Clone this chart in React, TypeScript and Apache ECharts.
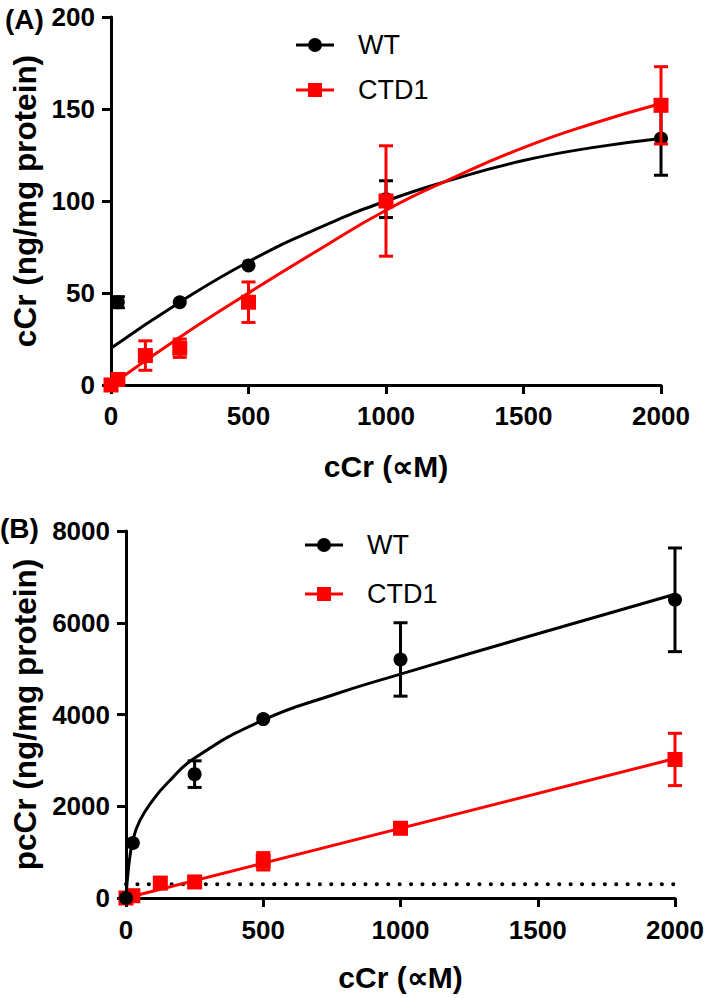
import React, { useEffect, useRef } from "react";
import * as echarts from "echarts";

// ---------- data ----------
// Panel A: cCr uptake
const wtA_x = [25, 250, 500, 1000, 2000];
const wtA_y = [45, 45, 65, 101, 134];
const wtA_err = [3, 0, 0, 10, 20];
const ctdA_x = [0, 25, 125, 250, 500, 1000, 2000];
const ctdA_y = [0, 3, 16, 20, 45, 100, 152];
const ctdA_err = [0, 0, 8, 5, 11, 30, 21];
// fitted curves in A
const fitWtA_x = [0, 250, 500, 750, 1000, 1250, 1500, 1750, 2000];
const fitWtA_y = [20, 45, 67, 85, 100, 112, 122, 129, 134];
const fitCtdA_x = [0, 250, 500, 750, 1000, 1250, 1500, 1750, 2000];
const fitCtdA_y = [0, 26, 50, 73, 95, 113, 129, 142, 153];

// Panel B: pcCr
const wtB_x = [0, 25, 250, 500, 1000, 2000];
const wtB_y = [0, 1200, 2700, 3900, 5200, 6500];
const wtB_err = [0, 0, 290, 0, 800, 1130];
const ctdB_x = [0, 25, 125, 250, 500, 1000, 2000];
const ctdB_y = [0, 50, 325, 350, 800, 1520, 3020];
const ctdB_err = [0, 0, 0, 0, 190, 0, 570];
const fitWtB_x = [0, 10, 25, 50, 100, 150, 250, 500, 750, 1000, 1500, 2000];
const fitWtB_y = [0, 700, 1250, 1680, 2150, 2500, 3050, 3880, 4420, 4880, 5760, 6620];
const fitCtdB_x = [0, 2000];
const fitCtdB_y = [0, 3040];
const thresholdB_x = [0, 2000];
const thresholdB_y = [300, 300];

// axes
const xTicks = { min: 0, max: 2000, interval: 500 };
const yTicksA = { min: 0, max: 200, interval: 50 };
const yTicksB = { min: 0, max: 8000, interval: 2000 };
const legendNames = ["WT", "CTD1"];

const FONT = '"Liberation Sans", Arial, Helvetica, sans-serif';
const BLACK = "#000000";
const RED = "#ff0000";

const zip = (xs: number[], ys: number[]) => xs.map((x, i) => [x, ys[i]]);
const bars = (xs: number[], ys: number[], es: number[]) =>
  xs
    .map((x, i) => [x, ys[i] - es[i], ys[i] + es[i], es[i]])
    .filter((d) => d[3] > 0)
    .map((d) => [d[0], d[1], d[2]]);

const circleIcon =
  "path://M0 5.5 H13 V8.5 H0 Z M25 5.5 H38 V8.5 H25 Z M26 7 A7 7 0 1 1 12 7 A7 7 0 1 1 26 7 Z";
const squareIcon = "path://M0 5.5 H13 V8.5 H0 Z M25 5.5 H38 V8.5 H25 Z M12 0 H26 V14 H12 Z";

function errSeries(data: number[][], color: string, axis: number, z: number) {
  return {
    type: "custom",
    xAxisIndex: axis,
    yAxisIndex: axis,
    z,
    clip: false,
    silent: true,
    data,
    encode: { x: 0, y: [1, 2] },
    renderItem: (_p: any, api: any) => {
      const x = api.value(0);
      const lo = api.coord([x, api.value(1)]);
      const hi = api.coord([x, api.value(2)]);
      const hw = 7;
      const st = { stroke: color, lineWidth: 3 };
      return {
        type: "group",
        children: [
          { type: "line", shape: { x1: lo[0], y1: lo[1], x2: hi[0], y2: hi[1] }, style: st },
          { type: "line", shape: { x1: lo[0] - hw, y1: lo[1], x2: lo[0] + hw, y2: lo[1] }, style: st },
          { type: "line", shape: { x1: hi[0] - hw, y1: hi[1], x2: hi[0] + hw, y2: hi[1] }, style: st },
        ],
      };
    },
  };
}

function curve(name: string, data: number[][], color: string, axis: number, z: number) {
  return {
    name,
    type: "line",
    xAxisIndex: axis,
    yAxisIndex: axis,
    z,
    data,
    symbol: "none",
    smooth: 0.5,
    lineStyle: { color, width: 3 },
    silent: true,
  };
}

function points(name: string, data: number[][], color: string, axis: number, symbol: string, size: number, z: number) {
  return {
    name,
    type: "scatter",
    xAxisIndex: axis,
    yAxisIndex: axis,
    z,
    data,
    symbol,
    symbolSize: size,
    clip: false,
    itemStyle: { color, opacity: 1 },
    silent: true,
  };
}

const axisCommon = {
  type: "value",
  axisLine: { show: true, onZero: false, lineStyle: { color: BLACK, width: 3 } },
  axisTick: { show: true, length: 9, lineStyle: { color: BLACK, width: 3 } },
  splitLine: { show: false },
  axisLabel: {
    fontSize: 26,
    fontWeight: "bold",
    color: BLACK,
    fontFamily: FONT,
    formatter: (v: number) => String(v),
  },
  nameLocation: "middle",
  nameTextStyle: { fontSize: 30, fontWeight: "bold", color: BLACK, fontFamily: FONT },
};

export default function App() {
  const ref = useRef<HTMLDivElement>(null);
  useEffect(() => {
    if (!ref.current) return;
    const chart = echarts.init(ref.current, null, { renderer: "svg" });
    const legendText = { fontSize: 27, fontFamily: FONT, color: BLACK, padding: [0, 0, 0, 19], lineHeight: 30 };
    const legendData = [
      { name: legendNames[0], icon: circleIcon },
      { name: legendNames[1], icon: squareIcon },
    ];
    const yName = { fontSize: 31.5, fontWeight: "bold", color: BLACK, fontFamily: FONT };
    chart.setOption({
      animation: false,
      backgroundColor: "#ffffff",
      textStyle: { fontFamily: FONT },
      title: [
        { text: "(A)", left: 5, top: 5, padding: 0, textStyle: { fontSize: 28, fontWeight: "bold", color: BLACK, fontFamily: FONT } },
        { text: "(B)", left: 0, top: 514, padding: 0, textStyle: { fontSize: 28, fontWeight: "bold", color: BLACK, fontFamily: FONT } },
      ],
      legend: [
        { data: legendData, orient: "vertical", left: 296, top: 30, itemWidth: 38, itemHeight: 14, itemGap: 15, selectedMode: false, padding: 0, textStyle: legendText },
        { data: legendData, orient: "vertical", left: 305, top: 530, itemWidth: 38, itemHeight: 14, itemGap: 19, selectedMode: false, padding: 0, textStyle: legendText },
      ],
      grid: [
        { left: 111, top: 17, width: 550, height: 368 },
        { left: 126, top: 531, width: 549, height: 367 },
      ],
      xAxis: [
        { ...axisCommon, gridIndex: 0, ...xTicks, name: "cCr (∝M)", nameGap: 66, axisLabel: { ...axisCommon.axisLabel, margin: 18 } },
        { ...axisCommon, gridIndex: 1, ...xTicks, name: "cCr (∝M)", nameGap: 64, axisLabel: { ...axisCommon.axisLabel, margin: 19 } },
      ],
      yAxis: [
        { ...axisCommon, gridIndex: 0, ...yTicksA, name: "cCr (ng/mg protein)", nameGap: 65, nameTextStyle: yName, axisLabel: { ...axisCommon.axisLabel, margin: 16 } },
        { ...axisCommon, gridIndex: 1, ...yTicksB, name: "pcCr (ng/mg protein)", nameGap: 79, nameTextStyle: yName, axisLabel: { ...axisCommon.axisLabel, margin: 16 } },
      ],
      series: [
        // Panel A
        curve("WT fit A", zip(fitWtA_x, fitWtA_y), BLACK, 0, 2),
        errSeries(bars(wtA_x, wtA_y, wtA_err), BLACK, 0, 3),
        points("WT", zip(wtA_x, wtA_y), BLACK, 0, "circle", 14, 4),
        curve("CTD1 fit A", zip(fitCtdA_x, fitCtdA_y), RED, 0, 5),
        errSeries(bars(ctdA_x, ctdA_y, ctdA_err), RED, 0, 6),
        points("CTD1", zip(ctdA_x, ctdA_y), RED, 0, "rect", 15, 7),
        // Panel B
        {
          name: "threshold",
          type: "line",
          xAxisIndex: 1,
          yAxisIndex: 1,
          z: 1,
          data: zip(thresholdB_x, thresholdB_y),
          symbol: "none",
          silent: true,
          lineStyle: { color: BLACK, width: 4, type: [0.1, 11.3], cap: "round" },
        },
        curve("CTD1 fit B", zip(fitCtdB_x, fitCtdB_y), RED, 1, 2),
        errSeries(bars(ctdB_x, ctdB_y, ctdB_err), RED, 1, 3),
        points("CTD1", zip(ctdB_x, ctdB_y), RED, 1, "rect", 15, 4),
        curve("WT fit B", zip(fitWtB_x, fitWtB_y), BLACK, 1, 5),
        errSeries(bars(wtB_x, wtB_y, wtB_err), BLACK, 1, 6),
        points("WT", zip(wtB_x, wtB_y), BLACK, 1, "circle", 14, 7),
      ],
    });
    return () => chart.dispose();
  }, []);
  return <div ref={ref} style={{ position: "absolute", left: 0, top: 0, width: 709, height: 998 }} />;
}
